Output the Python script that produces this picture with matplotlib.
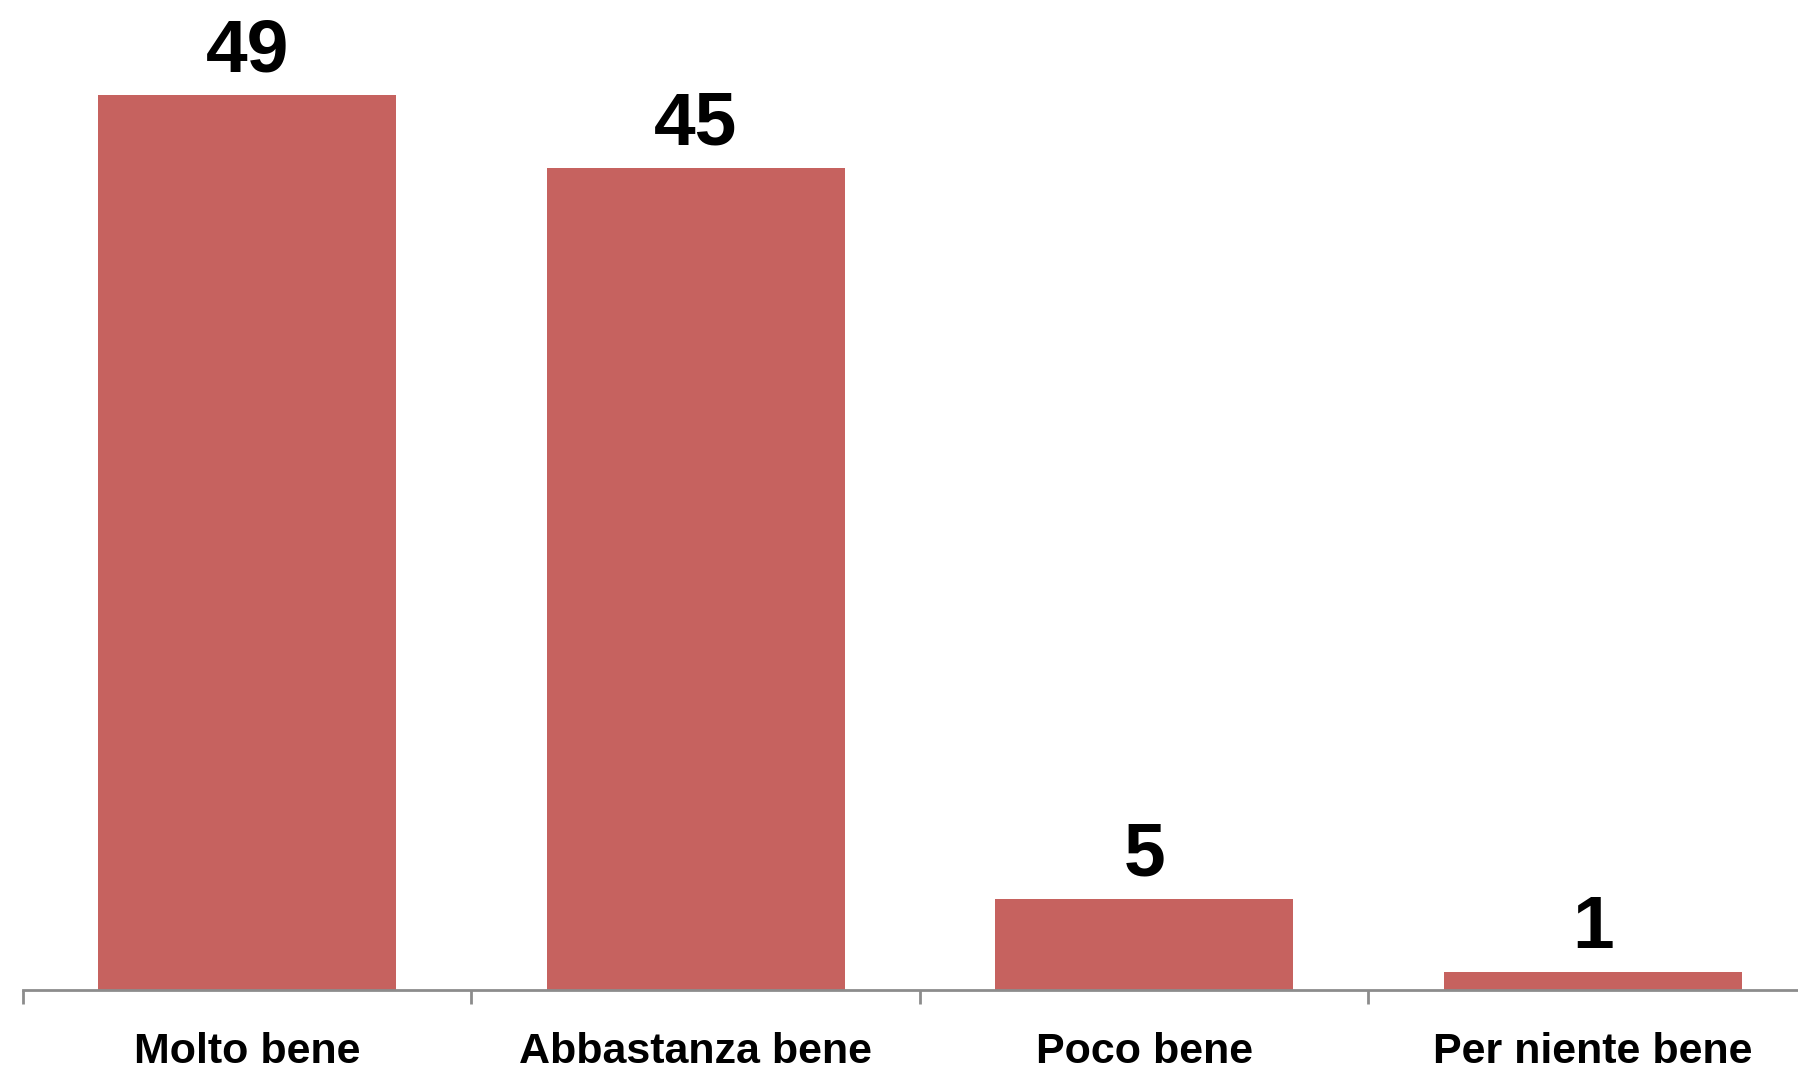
import numpy as np
import matplotlib.pyplot as plt
from matplotlib import font_manager

categories = ["Molto bene", "Abbastanza bene", "Poco bene", "Per niente bene"]
values = [49, 45, 5, 1]

bar_color = "#c6625f"
axis_color = "#8c8c8c"

names = {f.name for f in font_manager.fontManager.ttflist}
family = ["Liberation Sans Narrow", "Liberation Sans", "DejaVu Sans"]
family = [f for f in family if f in names] or ["DejaVu Sans"]
plt.rcParams['font.family'] = family

fig = plt.figure(figsize=(17.99, 10.69), dpi=100)
ax = fig.add_axes([23 / 1799, 1 - 990 / 1069, 1 - 23 / 1799, 990 / 1069])

x = np.arange(len(categories))
bars = ax.bar(x, values, width=0.665, color=bar_color, zorder=2)

for b, v in zip(bars, values):
    ax.annotate(str(v), (b.get_x() + b.get_width() / 2, b.get_height()),
                xytext=(0, 17), textcoords="offset points",
                ha="center", va="baseline", fontsize=54, fontweight="bold")

for side in ["top", "right", "left"]:
    ax.spines[side].set_visible(False)
ax.spines["bottom"].set_color(axis_color)
ax.spines["bottom"].set_linewidth(2)

ax.set_yticks([])
ax.set_xticks(x)
ax.set_xticklabels(categories, fontsize=31, fontweight="bold")
ax.tick_params(axis="x", which="major", length=0, pad=30)
ax.set_xticks(np.arange(-0.5, len(categories), 1.0), minor=True)
ax.tick_params(axis="x", which="minor", length=10, width=2, color=axis_color, direction="out")

# limits last so the minor ticks don't widen the view
ax.set_xlim(-0.5, 3.46)
ax.set_ylim(0, 49 * 990 / 895)

fig.savefig("out.png", dpi=100)
